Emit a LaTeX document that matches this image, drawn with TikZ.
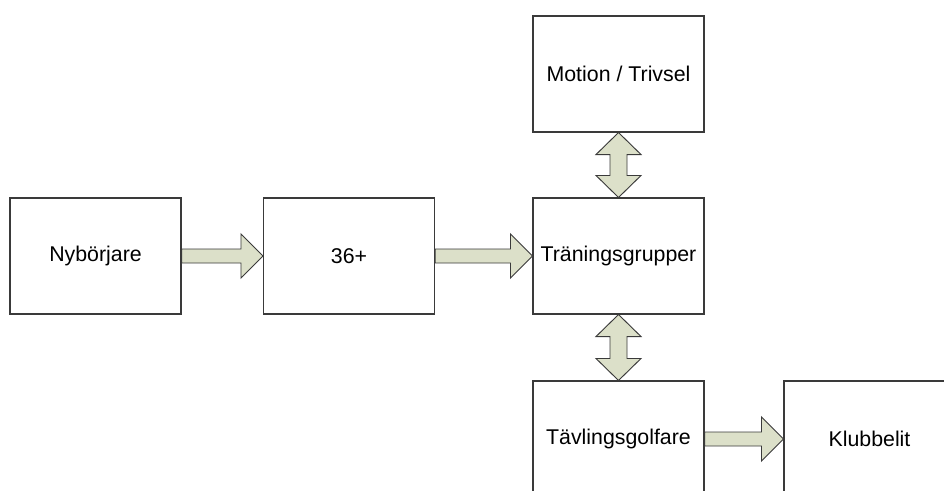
\documentclass[tikz,border=0pt]{standalone}
\usepackage{fontspec}
\setmainfont{Liberation Sans}
\usetikzlibrary{calc}
\definecolor{arrowfill}{HTML}{DCE0C9}
\definecolor{linec}{HTML}{3A3A3A}
\tikzset{
  box/.style={draw=linec, line width=0.8pt, fill=white, rectangle, minimum width=128.25pt, minimum height=87pt, inner sep=0pt, font=\fontsize{16}{19}\selectfont},
  blockarrow/.style={draw=linec, line width=0.7pt, fill=arrowfill, line join=miter}
}
\newcommand\hblockarrow[2]{%
  \draw[blockarrow] ($(#1.east)+(0,-7)$) -- ($(#1.east -| #2.west)+(-22,-7)$) -- ($(#1.east -| #2.west)+(-22,-22)$) -- (#1.east -| #2.west) -- ($(#1.east -| #2.west)+(-22,22)$) -- ($(#1.east -| #2.west)+(-22,7)$) -- ($(#1.east)+(0,7)$) -- cycle;}
\newcommand\vblockarrow[2]{%
  \draw[blockarrow] (#1.south) -- ($(#1.south)+(22.5,22)$) -- ($(#1.south)+(8.5,22)$) -- ($(#2.north)+(8.5,-22)$) -- ($(#2.north)+(22.5,-22)$) -- (#2.north) -- ($(#2.north)+(-22.5,-22)$) -- ($(#2.north)+(-8.5,-22)$) -- ($(#1.south)+(-8.5,22)$) -- ($(#1.south)+(-22.5,22)$) -- cycle;}
\begin{document}
\begin{tikzpicture}[x=0.75pt, y=-0.75pt]
\useasboundingbox (0,0) rectangle (944,490);
\clip (0,0) rectangle (944,490);
\fill[white] (0,0) rectangle (944,490);
\node[box] (nyb) at (95.5,256) {Nybörjare};
\node[box] (p36) at (349,256) {36+};
\node[box] (tr) at (618.5,256) {Träningsgrupper};
\node[box] (mot) at (618.5,74) {Motion / Trivsel};
\node[box] (tav) at (618.5,439) {Tävlingsgolfare};
\node[box] (klu) at (869.5,439) {Klubbelit};
\hblockarrow{nyb}{p36}
\hblockarrow{p36}{tr}
\hblockarrow{tav}{klu}
\vblockarrow{mot}{tr}
\vblockarrow{tr}{tav}
\end{tikzpicture}
\end{document}
